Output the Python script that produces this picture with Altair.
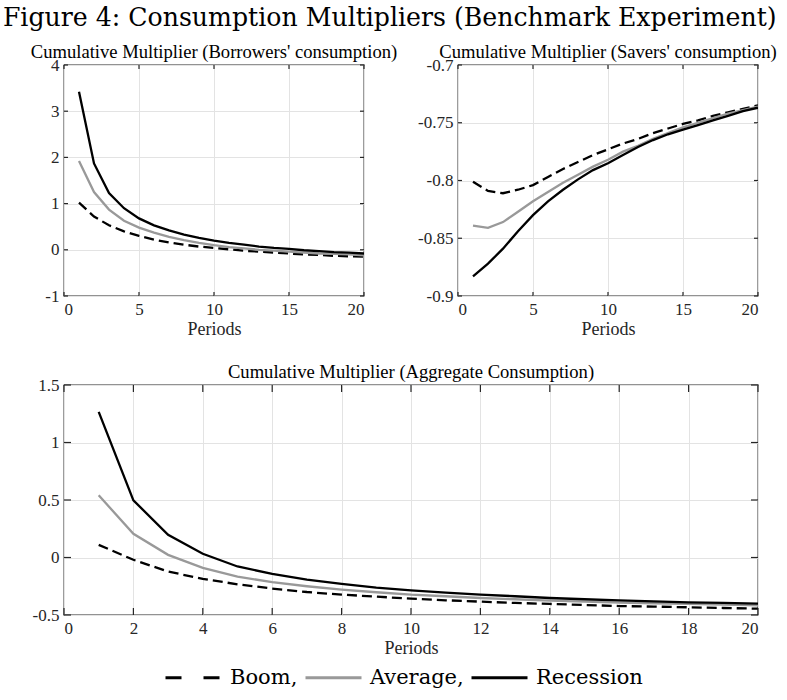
import altair as alt
import pandas as pd

periods = list(range(1, 21))
scenarios = ["Boom", "Average", "Recession"]

# Borrowers' consumption, cumulative multiplier
borrowers_boom = [1.02, 0.72, 0.53, 0.40, 0.30, 0.22, 0.16, 0.11, 0.07, 0.04,
                  0.01, -0.02, -0.04, -0.06, -0.08, -0.10, -0.11, -0.13, -0.14, -0.15]
borrowers_avg = [1.92, 1.25, 0.87, 0.63, 0.48, 0.37, 0.28, 0.21, 0.15, 0.10,
                 0.06, 0.03, 0.00, -0.02, -0.04, -0.06, -0.08, -0.09, -0.10, -0.12]
borrowers_rec = [3.42, 1.87, 1.23, 0.90, 0.68, 0.53, 0.42, 0.33, 0.26, 0.20,
                 0.15, 0.11, 0.07, 0.04, 0.02, -0.01, -0.03, -0.05, -0.06, -0.08]

# Savers' consumption, cumulative multiplier
savers_boom = [-0.801, -0.809, -0.811, -0.808, -0.804, -0.797, -0.790, -0.784, -0.778, -0.773,
               -0.768, -0.764, -0.759, -0.755, -0.751, -0.748, -0.744, -0.741, -0.738, -0.735]
savers_avg = [-0.839, -0.841, -0.836, -0.827, -0.818, -0.810, -0.802, -0.795, -0.788, -0.782,
              -0.775, -0.770, -0.764, -0.759, -0.754, -0.750, -0.746, -0.742, -0.739, -0.736]
savers_rec = [-0.883, -0.872, -0.859, -0.844, -0.830, -0.818, -0.808, -0.799, -0.791, -0.785,
              -0.778, -0.771, -0.765, -0.760, -0.756, -0.752, -0.748, -0.744, -0.740, -0.737]

# Aggregate consumption, cumulative multiplier
aggregate_boom = [0.11, -0.02, -0.122, -0.186, -0.233, -0.270, -0.300, -0.323, -0.340, -0.358,
                  -0.372, -0.384, -0.395, -0.404, -0.413, -0.422, -0.427, -0.433, -0.439, -0.445]
aggregate_avg = [0.541, 0.206, 0.023, -0.090, -0.166, -0.215, -0.250, -0.279, -0.302, -0.323,
                 -0.337, -0.352, -0.363, -0.375, -0.384, -0.392, -0.398, -0.404, -0.410, -0.416]
aggregate_rec = [1.267, 0.497, 0.198, 0.032, -0.078, -0.142, -0.192, -0.230, -0.262, -0.285,
                 -0.305, -0.323, -0.337, -0.352, -0.363, -0.372, -0.381, -0.390, -0.395, -0.401]

SERIF = "Liberation Serif"
TITLE_FONT = "DejaVu Serif"
GRAY = "#999999"
LINE_STYLE = {
    "Boom": dict(color="black", strokeDash=[10, 5]),
    "Average": dict(color=GRAY),
    "Recession": dict(color="black"),
}


def long_frame(boom, avg, rec):
    rows = []
    for name, vals in zip(scenarios, (boom, avg, rec)):
        for t, v in zip(periods, vals):
            rows.append({"period": t, "value": v, "scenario": name})
    return pd.DataFrame(rows)


def panel(df, title, xticks, ydom, yticks, w, h, tick_len, extra=None):
    x = alt.X("period:Q", scale=alt.Scale(domain=[0, 20], nice=False),
              axis=alt.Axis(values=xticks, title="Periods", labelExpr="datum.value + ''"))
    y = alt.Y("value:Q", scale=alt.Scale(domain=ydom, nice=False, zero=False),
              axis=alt.Axis(values=yticks, title=None, labelExpr="datum.value + ''"))
    layers = []
    for s in scenarios:
        layers.append(
            alt.Chart(df).transform_filter(alt.datum.scenario == s)
            .mark_line(strokeWidth=2.3, clip=True, **LINE_STYLE[s])
            .encode(x=x, y=y)
        )
    # inward tick marks on all four sides of the frame
    xt = pd.DataFrame({"period": xticks})
    yt = pd.DataFrame({"value": yticks})
    tick = dict(color="#262626", strokeWidth=1.2)
    layers += [
        alt.Chart(xt).mark_rule(**tick).encode(x=x, y=alt.value(0), y2=alt.value(tick_len)),
        alt.Chart(xt).mark_rule(**tick).encode(x=x, y=alt.value(h), y2=alt.value(h - tick_len)),
        alt.Chart(yt).mark_rule(**tick).encode(y=y, x=alt.value(0), x2=alt.value(tick_len)),
        alt.Chart(yt).mark_rule(**tick).encode(y=y, x=alt.value(w), x2=alt.value(w - tick_len)),
    ]
    if extra is not None:
        layers.append(extra(df, x, y))
    return alt.layer(*layers).properties(
        width=w, height=h,
        title=alt.TitleParams(title, font=SERIF, fontSize=18.6, fontWeight="normal", offset=-6),
    )


def legend_layer(df, x, y):
    legend = alt.Legend(
        title=None, orient="none", legendX=100, legendY=583, direction="horizontal",
        symbolType="stroke", symbolSize=3136, symbolStrokeWidth=3, symbolOpacity=1,
        labelFont=TITLE_FONT, labelFontSize=21, labelColor="black", labelLimit=0,
        labelOffset=7, columnPadding=1,
        labelExpr="datum.label == 'Recession' ? datum.label : datum.label + ','",
    )
    return alt.Chart(df).mark_line(opacity=0).encode(
        x=x, y=y,
        color=alt.Color("scenario:N", scale=alt.Scale(domain=scenarios, range=["black", GRAY, "black"]),
                        legend=legend),
        strokeDash=alt.StrokeDash("scenario:N",
                                  scale=alt.Scale(domain=scenarios, range=[[16, 22], [1, 0], [1, 0]]),
                                  legend=legend),
    )


borrowers = panel(long_frame(borrowers_boom, borrowers_avg, borrowers_rec),
                  "Cumulative Multiplier (Borrowers' consumption)",
                  [0, 5, 10, 15, 20], [-1, 4], [-1, 0, 1, 2, 3, 4], 300, 231, 4)
savers = panel(long_frame(savers_boom, savers_avg, savers_rec),
               "Cumulative Multiplier (Savers' consumption)",
               [0, 5, 10, 15, 20], [-0.9, -0.7], [-0.9, -0.85, -0.8, -0.75, -0.7], 300, 231, 4)
aggregate = panel(long_frame(aggregate_boom, aggregate_avg, aggregate_rec),
                  "Cumulative Multiplier (Aggregate Consumption)",
                  list(range(0, 21, 2)), [-0.5, 1.5], [-0.5, 0, 0.5, 1, 1.5], 694, 230, 7,
                  extra=legend_layer)

chart = alt.vconcat(
    alt.hconcat(borrowers, savers, spacing=18),
    aggregate,
    spacing=23,
).properties(
    title=alt.TitleParams("Figure 4: Consumption Multipliers (Benchmark Experiment)",
                          font=TITLE_FONT, fontSize=25.2, fontWeight="normal", anchor="middle",
                          offset=12, dx=-14),
    padding={"left": 2, "top": 5, "right": 0, "bottom": 0},
).configure_view(
    stroke="#262626", strokeWidth=1.3,
).configure_axis(
    labelFont=SERIF, labelFontSize=17, labelColor="#262626",
    titleFont=SERIF, titleFontSize=18, titleFontWeight="normal", titleColor="#262626",
    grid=True, gridColor="#e3e3e3", gridWidth=1,
    domain=False, ticks=False, labelPadding=5, titlePadding=3,
).configure_title(color="black")

chart.save("out.html", embed_options={"renderer": "svg", "actions": False})
